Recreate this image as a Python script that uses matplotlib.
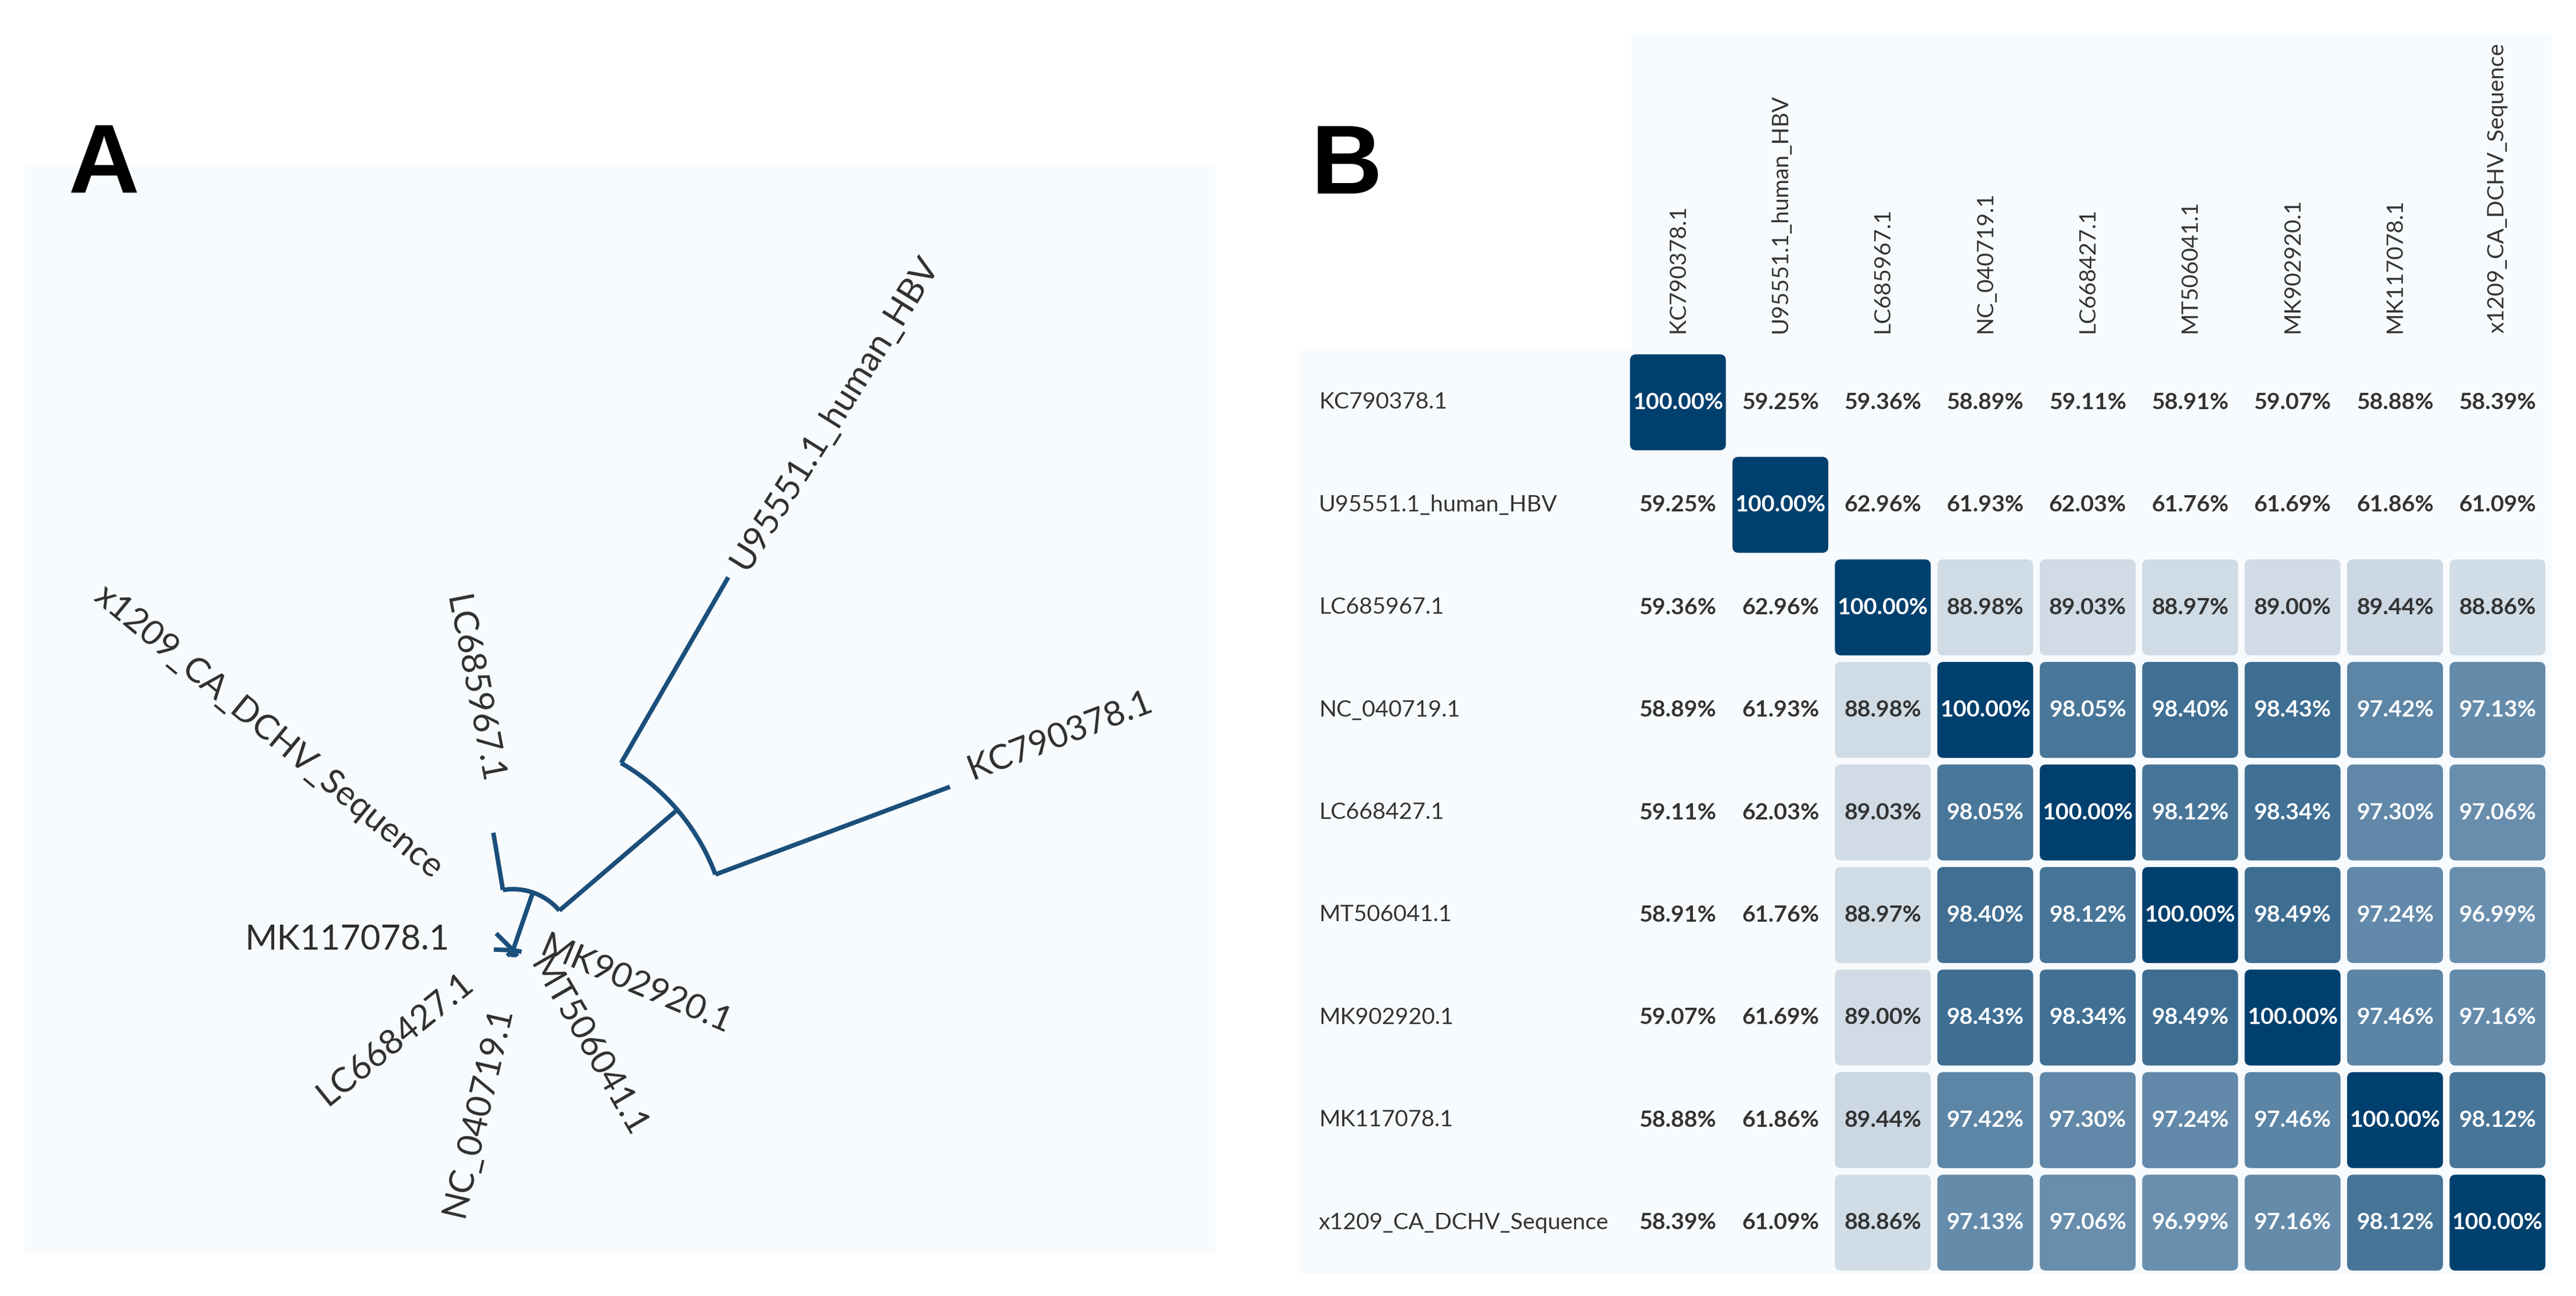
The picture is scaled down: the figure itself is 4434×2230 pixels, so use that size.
import numpy as np
import matplotlib.pyplot as plt
from matplotlib.patches import Rectangle, FancyBboxPatch
from matplotlib.colors import LinearSegmentedColormap, Normalize
import matplotlib.transforms as mtransforms

W, H = 4434, 2230
DPI = 200

# ---------------- tree data (radial layout: distance from root, angle in degrees)
node_names = ["root", "N1", "N2",
              "U95551.1_human_HBV", "KC790378.1", "LC685967.1",
              "x1209_CA_DCHV_Sequence", "MK117078.1", "LC668427.1",
              "NC_040719.1", "MT506041.1", "MK902920.1"]
node_parent = [None, "root", "N1", "N2", "N2", "N1",
               "root", "root", "root", "root", "root", "root"]
node_dist = [0.0, 0.105, 0.372, 0.741, 0.803, 0.205,
             0.041, 0.033, 0.014, 0.012, 0.013, 0.015]
node_angle = [0, 71, 40.5, 60, 20.5, 99.5,
              135, 178, 225, 268, 305, 350]

# label placement (polar around root), rotation, alignment
leaf_names = node_names[3:]
lab_r = [0.765, 0.843, 0.290, 0.186, 0.111, 0.091, 0.099, 0.045, 0.051]
lab_ang = [59.5, 21.5, 97.3, 133.5, 170.7, 213.3, 258.3, -19.6, 10]
lab_rot = [58, 21, -79, -39.5, 0, 39, 77, -60, -23]
lab_ha = ["left", "left", "right", "right", "right", "right", "right", "left", "left"]

# ---------------- identity matrix data
seqs = ["KC790378.1", "U95551.1_human_HBV", "LC685967.1", "NC_040719.1",
        "LC668427.1", "MT506041.1", "MK902920.1", "MK117078.1",
        "x1209_CA_DCHV_Sequence"]
identity = np.array([
    [100.00, 59.25, 59.36, 58.89, 59.11, 58.91, 59.07, 58.88, 58.39],
    [59.25, 100.00, 62.96, 61.93, 62.03, 61.76, 61.69, 61.86, 61.09],
    [59.36, 62.96, 100.00, 88.98, 89.03, 88.97, 89.00, 89.44, 88.86],
    [58.89, 61.93, 88.98, 100.00, 98.05, 98.40, 98.43, 97.42, 97.13],
    [59.11, 62.03, 89.03, 98.05, 100.00, 98.12, 98.34, 97.30, 97.06],
    [58.91, 61.76, 88.97, 98.40, 98.12, 100.00, 98.49, 97.24, 96.99],
    [59.07, 61.69, 89.00, 98.43, 98.34, 98.49, 100.00, 97.46, 97.16],
    [58.88, 61.86, 89.44, 97.42, 97.30, 97.24, 97.46, 100.00, 98.12],
    [58.39, 61.09, 88.86, 97.13, 97.06, 96.99, 97.16, 98.12, 100.00],
])

line_col = "#1b4f7b"
text_col = "#2e2e2e"
bg_col = "#f8fbfd"

plt.rcParams['font.family'] = ['Lato', 'DejaVu Sans']

fig = plt.figure(figsize=(W / DPI, H / DPI), dpi=DPI)


def fig_box(x0, y0, x1, y1):
    # pixel box (y down) -> figure fraction rect
    return [x0 / W, 1 - y1 / H, (x1 - x0) / W, (y1 - y0) / H]


# backgrounds
for (x0, y0, x1, y1) in [(42, 283, 2093, 2155), (2237, 603, 4392, 2192), (2808, 57, 4392, 604)]:
    b = fig_box(x0, y0, x1, y1)
    fig.add_artist(Rectangle((b[0], b[1]), b[2], b[3], transform=fig.transFigure,
                             facecolor=bg_col, edgecolor="none", zorder=-5))

# ---------------- panel A: tree
root_px = (883, 1635)
scale = 1000.0
axt = fig.add_axes(fig_box(42, 283, 2093, 2155))
axt.set_xlim((42 - root_px[0]) / scale, (2093 - root_px[0]) / scale)
axt.set_ylim((root_px[1] - 2155) / scale, (root_px[1] - 283) / scale)
axt.set_facecolor("none")
for s in axt.spines.values():
    s.set_visible(False)
axt.set_xticks([])
axt.set_yticks([])

idx = {n: i for i, n in enumerate(node_names)}
lw = 2.8
for i, n in enumerate(node_names):
    p = node_parent[i]
    if p is None:
        continue
    a = np.radians(node_angle[i])
    r0 = node_dist[idx[p]]
    r1 = node_dist[i]
    axt.plot([r0 * np.cos(a), r1 * np.cos(a)], [r0 * np.sin(a), r1 * np.sin(a)],
             color=line_col, lw=lw, solid_capstyle="butt")
# arcs at internal nodes
for i, n in enumerate(node_names):
    kids = [node_angle[k] for k in range(len(node_names)) if node_parent[k] == n]
    if not kids or node_dist[i] == 0:
        continue
    t = np.radians(np.linspace(min(kids), max(kids), 60))
    r = node_dist[i]
    axt.plot(r * np.cos(t), r * np.sin(t), color=line_col, lw=lw, solid_capstyle="butt")

for k, name in enumerate(leaf_names):
    a = np.radians(lab_ang[k])
    axt.text(lab_r[k] * np.cos(a), lab_r[k] * np.sin(a), name, rotation=lab_rot[k],
             rotation_mode="anchor", ha=lab_ha[k], va="center", fontsize=21.5, color=text_col)

# ---------------- panel B: identity heatmap
axh = fig.add_axes(fig_box(2800, 604, 4387, 2192))
axh.set_xlim(-0.5, 8.5)
axh.set_ylim(8.5, -0.5)
axh.set_facecolor("none")
for s in axh.spines.values():
    s.set_visible(False)
axh.set_xticks([])
axh.set_yticks([])

vmin, vmax = 88.5, 100.0
stops = [(88.5, "#d6e0e8"), (97.0, "#6a8fae"), (98.0, "#4b789b"), (98.5, "#3e6d92"), (100.0, "#00406e")]
cmap = LinearSegmentedColormap.from_list(
    "ident", [((v - vmin) / (vmax - vmin), c) for v, c in stops])
norm = Normalize(vmin, vmax)

n = len(seqs)
cs = 0.936
for i in range(n):
    for j in range(n):
        v = identity[i, j]
        if v >= 80:
            axh.add_patch(FancyBboxPatch((j - cs / 2, i - cs / 2), cs, cs,
                                         boxstyle="round,pad=0,rounding_size=0.06",
                                         facecolor=cmap(norm(v)), edgecolor="none"))
        tc = "white" if v >= 95 else "#333333"
        axh.text(j, i, f"{v:.2f}%", ha="center", va="center", fontsize=14.2,
                 fontweight="bold", color=tc)

row_tr = mtransforms.blended_transform_factory(fig.transFigure, axh.transData)
col_tr = mtransforms.blended_transform_factory(axh.transData, fig.transFigure)
for i, s in enumerate(seqs):
    axh.text(2270 / W, i, s, transform=row_tr, ha="left", va="center",
             fontsize=14.2, color="#333333")
    axh.text(i, 1 - 573 / H, s, transform=col_tr, rotation=90, ha="center",
             va="bottom", fontsize=14.2, color="#333333")

# panel letters
fig.text(118 / W, 1 - 333 / H, "A", fontsize=61, fontweight="bold",
         family="Liberation Sans", ha="left", va="baseline")
fig.text(2257 / W, 1 - 333 / H, "B", fontsize=61, fontweight="bold",
         family="Liberation Sans", ha="left", va="baseline")

fig.savefig("out.png", dpi=DPI)
